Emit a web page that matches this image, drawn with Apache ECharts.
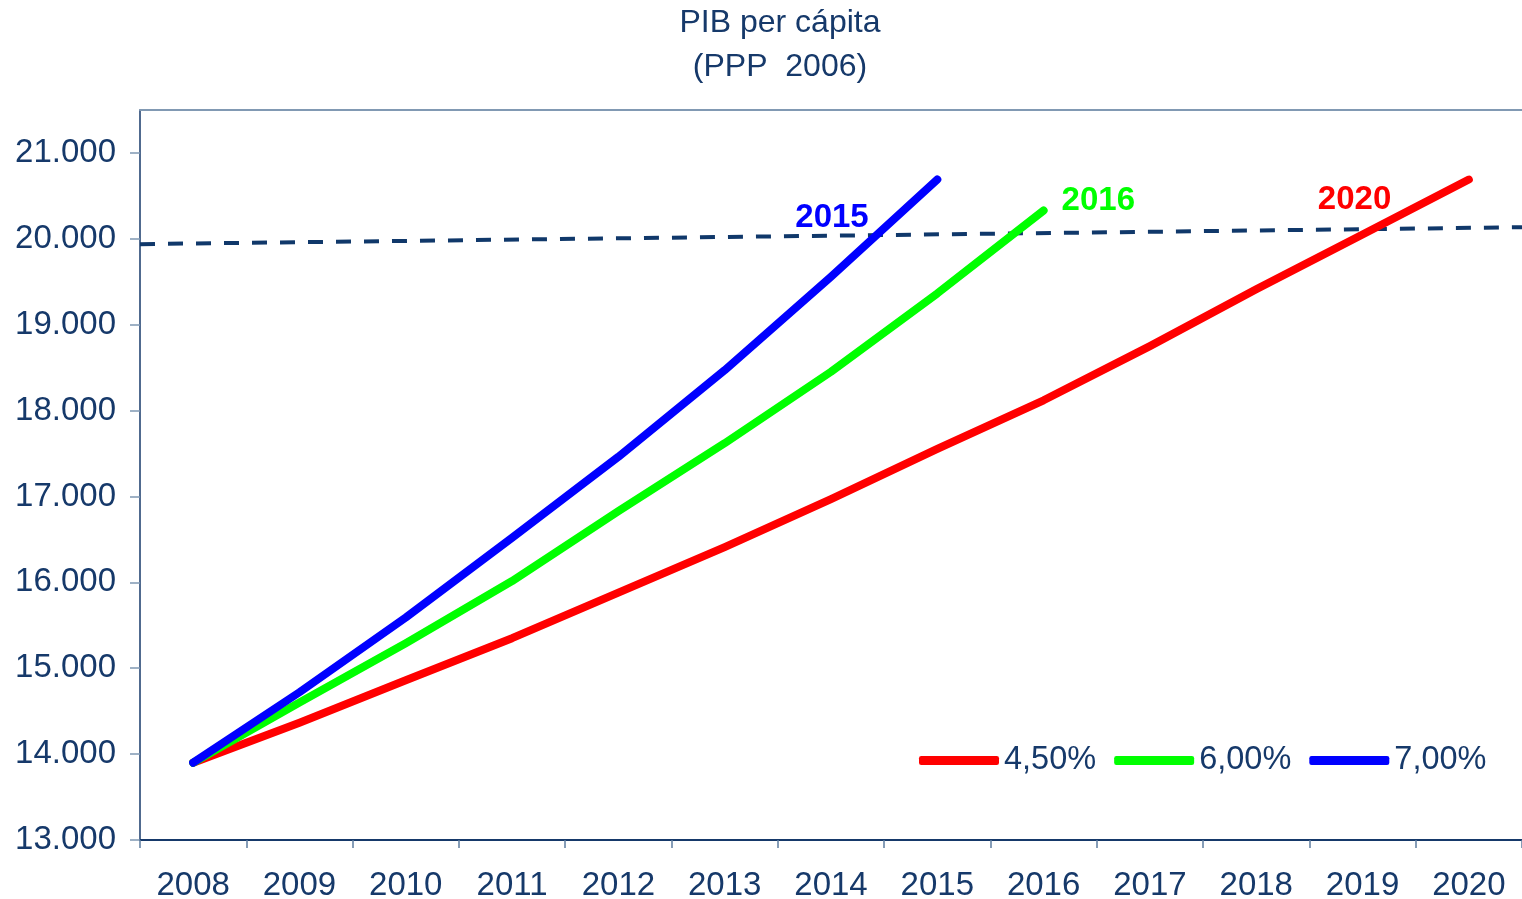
<!DOCTYPE html>
<html>
<head>
<meta charset="utf-8">
<script src="https://cdn.jsdelivr.net/npm/echarts@6/dist/echarts.min.js"></script>
<style>
html,body{margin:0;padding:0;background:#fff;}
#chart{width:1522px;height:899px;}
</style>
</head>
<body>
<div id="chart"></div>
<script>
const years = ['2008','2009','2010','2011','2012','2013','2014','2015','2016','2017','2018','2019','2020'];
const red45 = [13900, 14365, 14860, 15350, 15880, 16410, 16970, 17555, 18120, 18750, 19414, 20050, 20690];
const green60 = [13900, 14600, 15290, 16015, 16830, 17620, 18452, 19364, 20330];
const blue70 = [13900, 14720, 15590, 16520, 17462, 18471, 19558, 20690];
const seriesNames = ['4,50%', '6,00%', '7,00%'];
const endLabels = ['2020', '2016', '2015'];
const refLineX = [0, 1];
const refLineY = [19938, 20135];
const yTicks = [13000, 14000, 15000, 16000, 17000, 18000, 19000, 20000, 21000];

const NAVY = '#16396a';
const FONT = '"Liberation Sans", Arial, sans-serif';
const fmt = v => String(v).replace(/\B(?=(\d{3})+(?!\d))/g, '.');

const chart = echarts.init(document.getElementById('chart'), null, {renderer: 'canvas'});

function lineSeries(name, data, color, label, offset) {
  return {
    name: name,
    type: 'line',
    data: data,
    xAxisIndex: 0,
    showSymbol: false,
    symbol: 'none',
    lineStyle: {color: color, width: 8, cap: 'round', join: 'round'},
    itemStyle: {color: color},
    endLabel: {
      show: true,
      formatter: label,
      color: color,
      fontFamily: FONT,
      fontSize: 33,
      fontWeight: 'bold',
      offset: offset
    },
    z: 3
  };
}

chart.setOption({
  animation: false,
  backgroundColor: '#ffffff',
  textStyle: {fontFamily: FONT},
  title: {
    text: 'PIB per cápita\n(PPP  2006)',
    left: 780,
    textAlign: 'center',
    top: 1,
    padding: 0,
    textStyle: {
      color: NAVY,
      fontFamily: FONT,
      fontSize: 32,
      fontWeight: 'normal',
      lineHeight: 44
    }
  },
  legend: {
    data: seriesNames,
    left: 919,
    top: 744,
    padding: 0,
    itemWidth: 80,
    itemHeight: 9,
    itemGap: 18,
    icon: 'roundRect',
    textStyle: {color: NAVY, fontFamily: FONT, fontSize: 32.5, padding: [0, 0, 0, 0]}
  },
  grid: {left: 140, right: 0, top: 110, bottom: 59, containLabel: false, outerBoundsMode: 'none'},
  xAxis: [{
    type: 'category',
    data: years,
    boundaryGap: true,
    axisLine: {show: true, lineStyle: {color: NAVY, width: 2}},
    axisTick: {show: true, length: 8, interval: 0, lineStyle: {color: '#5f7ea0', width: 1.5}},
    axisLabel: {color: NAVY, fontFamily: FONT, fontSize: 33, margin: 29, interval: 0},
    splitLine: {show: false}
  }, {
    type: 'value',
    position: 'top',
    min: 0,
    max: 1,
    axisLine: {show: true, onZero: false, lineStyle: {color: '#8199b3', width: 2}},
    axisTick: {show: false},
    axisLabel: {show: false},
    splitLine: {show: false}
  }],
  yAxis: {
    type: 'value',
    min: 13000,
    max: 21500,
    interval: 1000,
    axisLine: {show: true, lineStyle: {color: NAVY, width: 1.5}},
    axisTick: {show: true, length: 10, customValues: yTicks, lineStyle: {color: '#7f98b3', width: 1.5}},
    axisLabel: {color: NAVY, fontFamily: FONT, fontSize: 33, margin: 24, customValues: yTicks, formatter: fmt},
    splitLine: {show: false}
  },
  series: [
    {
      name: 'ref',
      type: 'line',
      xAxisIndex: 1,
      data: refLineX.map((x, i) => [x, refLineY[i]]),
      showSymbol: false,
      symbol: 'none',
      lineStyle: {color: '#10386a', width: 4, type: [15, 13]},
      z: 2,
      silent: true
    },
    lineSeries(seriesNames[0], red45, '#ff0000', endLabels[0], [-159, 20]),
    lineSeries(seriesNames[1], green60, '#00ff00', endLabels[1], [10, -10]),
    lineSeries(seriesNames[2], blue70, '#0000ff', endLabels[2], [-150, 38])
  ]
});
</script>
</body>
</html>
